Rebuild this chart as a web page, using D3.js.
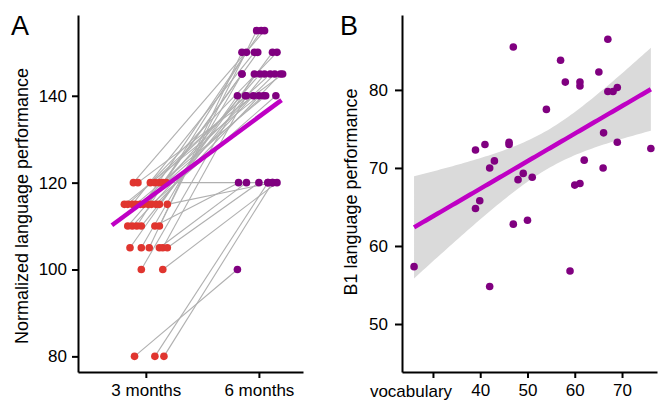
<!DOCTYPE html>
<html>
<head>
<meta charset="utf-8">
<script src="https://cdn.jsdelivr.net/npm/d3@7"></script>
<style>
  body { margin: 0; background: #fff; }
  text { font-family: "Liberation Sans", Arial, Helvetica, sans-serif; }
</style>
</head>
<body>
<div id="chart"></div>
<script>
// ---- Panel A data: one entry per child, score at 3 and 6 months ----
const timeLabels = ["3 months", "6 months"];
const score3 = [80, 80, 80, 100, 100, 105, 105, 105, 105, 105, 105,
  110, 110, 110, 110, 110, 110,
  115, 115, 115, 115, 115, 115, 115, 115, 115, 115, 115,
  120, 120, 120, 120, 120, 120, 120];
// horizontal jitter (in category units) used in the original plot
const jitter3 = [-0.10, 0.08, 0.16, -0.04, 0.15, -0.14, -0.04, 0.03, 0.12, 0.15, 0.19,
  -0.16, -0.12, -0.08, -0.04, 0.08, 0.12,
  -0.19, -0.16, -0.12, -0.09, -0.05, -0.02, 0.02, 0.05, 0.09, 0.12, 0.19,
  -0.11, -0.07, 0.04, 0.08, 0.12, 0.15, 0.18];
const score6 = [100, 120, 120, 145, 120, 140, 145, 150, 120, 140, 120,
  145, 140, 150, 145, 120, 155,
  140, 145, 150, 140, 145, 155, 150, 140, 145, 150, 120,
  155, 145, 150, 140, 120, 145, 140];
const jitter6 = [-0.19, 0.08, 0.12, -0.04, 0.16, -0.19, -0.15, -0.15, -0.11, -0.11, 0.00,
  0.01, -0.05, -0.11, 0.05, -0.18, -0.02,
  0.00, 0.10, -0.04, 0.06, 0.14, 0.02, -0.01, 0.15, 0.19, 0.12, 0.12,
  0.05, 0.21, 0.16, -0.12, 0.08, -0.15, 0.04];
// fitted trend shown in panel A (endpoints in category units / score)
const trendX = [0.70, 2.20];
const trendY = [110.2, 139.0];
const yTicksA = [80, 100, 120, 140];

// ---- Panel B data: vocabulary vs B1 language performance ----
const vocabulary = [47.0, 67.0, 57.0, 65.1, 58.0, 61.1, 61.1, 67.0, 68.1, 69.0,
  54.0, 66.1, 69.0, 76.1, 39.0, 41.0, 46.1, 46.1, 43.0, 62.0,
  42.0, 66.0, 48.0, 49.1, 51.0, 60.0, 61.1, 39.9, 39.0, 47.0,
  50.0, 26.0, 59.0, 42.0];
const b1Score = [85.5, 86.5, 83.8, 82.3, 81.0, 81.0, 80.5, 79.8, 79.8, 80.3,
  77.5, 74.5, 73.3, 72.5, 72.3, 73.0, 73.3, 73.0, 70.9, 71.0,
  70.0, 70.0, 68.5, 69.3, 68.8, 67.8, 68.0, 65.8, 64.8, 62.8,
  63.3, 57.35, 56.8, 54.8];
const xTicksB = [30, 40, 50, 60, 70];
const yTicksB = [50, 60, 70, 80];

const W = 660, H = 400;
const red = "#e0352f", purple = "#800080", magenta = "#bf00c4";
const tickFont = "17px", titleFont = "18px";

const svg = d3.select("#chart").append("svg")
  .attr("width", W).attr("height", H);

function styleAxis(g) {
  g.select(".domain").attr("stroke", "#000").attr("stroke-width", 2);
  g.selectAll(".tick line").attr("stroke", "#000").attr("stroke-width", 2);
  g.selectAll(".tick text").attr("fill", "#000").style("font-size", tickFont)
    .style("font-family", '"Liberation Sans", Arial, sans-serif');
}

// ================= Panel A =================
const xA = d3.scaleLinear().domain([0.4, 2.39]).range([78, 303]);
const yA = d3.scaleLinear().domain([76.4, 158.6]).range([372, 15]);

const subjects = score3.map((v, i) => ({
  v3: v, j3: jitter3[i], v6: score6[i], j6: jitter6[i]
}));

const gA = svg.append("g");

// paired lines
gA.selectAll(".pair")
  .data(subjects)
  .enter()
  .append("line")
  .attr("class", "pair")
  .attr("x1", d => xA(1 + d.j3))
  .attr("y1", d => yA(d.v3))
  .attr("x2", d => xA(2 + d.j6))
  .attr("y2", d => yA(d.v6))
  .attr("stroke", "#b0b0b0")
  .attr("stroke-width", 1.1);

gA.selectAll(".dot3")
  .data(subjects)
  .enter()
  .append("circle")
  .attr("cx", d => xA(1 + d.j3))
  .attr("cy", d => yA(d.v3))
  .attr("r", 3.8)
  .attr("fill", red);

gA.selectAll(".dot6")
  .data(subjects)
  .enter()
  .append("circle")
  .attr("cx", d => xA(2 + d.j6))
  .attr("cy", d => yA(d.v6))
  .attr("r", 3.8)
  .attr("fill", purple);

// trend line
gA.append("line")
  .attr("x1", xA(trendX[0])).attr("y1", yA(trendY[0]))
  .attr("x2", xA(trendX[1])).attr("y2", yA(trendY[1]))
  .attr("stroke", magenta)
  .attr("stroke-width", 4.5);

gA.append("g")
  .attr("transform", `translate(${xA.range()[0]},0)`)
  .call(d3.axisLeft(yA).tickValues(yTicksA).tickSize(6).tickSizeOuter(0).tickPadding(5))
  .call(styleAxis);

gA.append("g")
  .attr("transform", `translate(0,${yA.range()[0]})`)
  .call(d3.axisBottom(xA).tickValues([1, 2]).tickFormat((d, i) => timeLabels[i])
    .tickSize(6).tickSizeOuter(0).tickPadding(6))
  .call(styleAxis);

gA.append("text")
  .attr("transform", "translate(28,206) rotate(-90)")
  .attr("text-anchor", "middle")
  .style("font-size", titleFont)
  .text("Normalized language performance");

svg.append("text")
  .attr("x", 11).attr("y", 35)
  .style("font-size", "27px")
  .text("A");

// ================= Panel B =================
const xB = d3.scaleLinear().domain([23.45, 77.4]).range([402, 657]);
const yB = d3.scaleLinear().domain([43.85, 89.6]).range([372, 15]);

const points = vocabulary.map((v, i) => ({ x: v, y: b1Score[i] }));

// ordinary least squares fit with 95% confidence band
const n = points.length;
const mx = d3.mean(points, d => d.x);
const my = d3.mean(points, d => d.y);
const sxx = d3.sum(points, d => (d.x - mx) ** 2);
const sxy = d3.sum(points, d => (d.x - mx) * (d.y - my));
const slope = sxy / sxx;
const intercept = my - slope * mx;
const sse = d3.sum(points, d => (d.y - (intercept + slope * d.x)) ** 2);
const s = Math.sqrt(sse / (n - 2));
const tCrit = 2.037;
const [xmin, xmax] = d3.extent(points, d => d.x);
const band = d3.range(0, 81).map(k => {
  const x = xmin + (xmax - xmin) * k / 80;
  const fit = intercept + slope * x;
  const se = s * Math.sqrt(1 / n + (x - mx) ** 2 / sxx);
  return { x, fit, lo: fit - tCrit * se, hi: fit + tCrit * se };
});

const gB = svg.append("g");

gB.append("path")
  .datum(band)
  .attr("d", d3.area().x(d => xB(d.x)).y0(d => yB(d.lo)).y1(d => yB(d.hi)))
  .attr("fill", "#dadada");

gB.selectAll(".pt")
  .data(points)
  .enter()
  .append("circle")
  .attr("cx", d => xB(d.x))
  .attr("cy", d => yB(d.y))
  .attr("r", 3.8)
  .attr("fill", purple);

gB.append("path")
  .datum(band)
  .attr("d", d3.line().x(d => xB(d.x)).y(d => yB(d.fit)))
  .attr("fill", "none")
  .attr("stroke", magenta)
  .attr("stroke-width", 4.5);

gB.append("g")
  .attr("transform", `translate(${xB.range()[0]},0)`)
  .call(d3.axisLeft(yB).tickValues(yTicksB).tickSize(7).tickSizeOuter(0).tickPadding(7))
  .call(styleAxis);

gB.append("g")
  .attr("transform", `translate(0,${yB.range()[0]})`)
  .call(d3.axisBottom(xB).tickValues(xTicksB).tickFormat(d => d === 30 ? "" : d)
    .tickSize(6).tickSizeOuter(0).tickPadding(6))
  .call(styleAxis);

gB.append("text")
  .attr("x", 411).attr("y", 396.5)
  .attr("text-anchor", "middle")
  .style("font-size", tickFont)
  .text("vocabulary");

gB.append("text")
  .attr("transform", "translate(357,192) rotate(-90)")
  .attr("text-anchor", "middle")
  .style("font-size", titleFont)
  .text("B1 language performance");

svg.append("text")
  .attr("x", 340).attr("y", 35)
  .style("font-size", "27px")
  .text("B");
</script>
</body>
</html>
